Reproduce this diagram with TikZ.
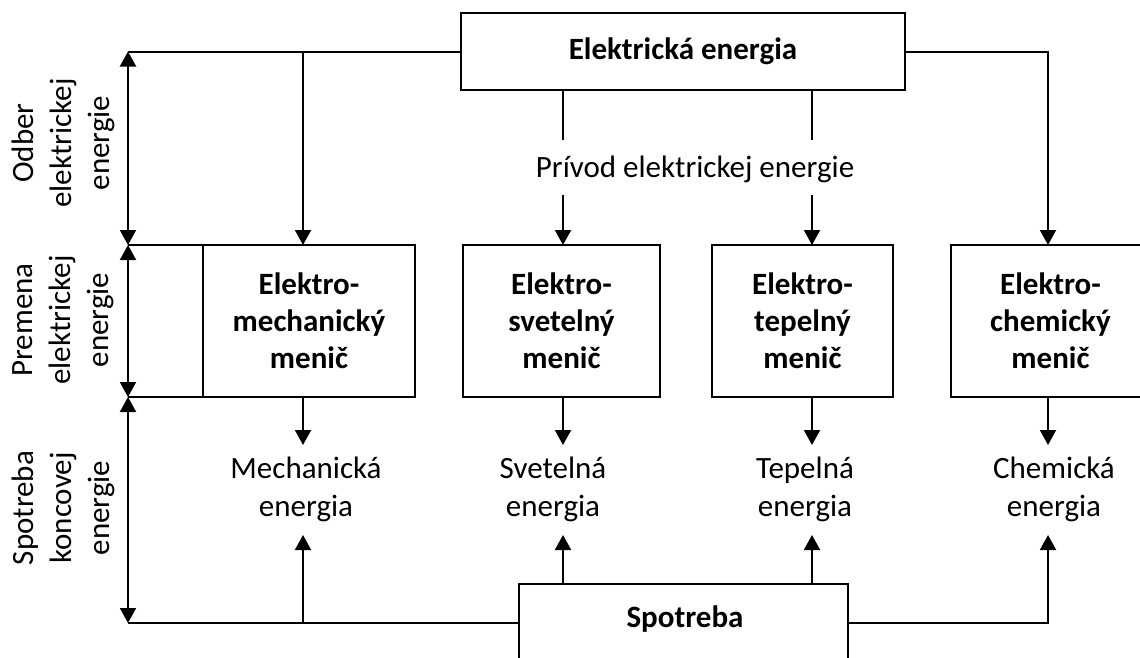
\documentclass[tikz,border=0pt]{standalone}
\usepackage{fontspec}
\setmainfont{Carlito}
\usetikzlibrary{arrows.meta}
\tikzset{
  lw/.style={line width=2pt},
  box/.style={draw, lw, inner sep=0pt, outer sep=0pt, font=\fontsize{31}{37}\selectfont\bfseries, align=center},
  txt/.style={inner sep=0pt, outer sep=0pt, font=\fontsize{31}{38}\selectfont, align=center},
  arr/.style={lw, -{Triangle[width=16pt,length=15pt]}},
  dim/.style={lw, {Triangle[width=16pt,length=15pt]}-{Triangle[width=16pt,length=15pt]}},
  plain/.style={lw}
}
\begin{document}
\begin{tikzpicture}[x=1pt,y=-1pt]
\useasboundingbox (0,0) rectangle (1140,657);
\clip (0,0) rectangle (1140,657);

% main boxes
\node[box, minimum width=444, minimum height=77] (el) at (683,51.5) {Elektrická energia};
\node[box, minimum width=212, minimum height=152] (mech) at (309,321) {Elektro-\\mechanický\\menič};
\node[box, minimum width=197, minimum height=152] (svet) at (561.5,321) {Elektro-\\svetelný\\menič};
\node[box, minimum width=181, minimum height=152] (tep) at (802.5,321) {Elektro-\\tepelný\\menič};
\node[box, minimum width=199, minimum height=152] (chem) at (1050.5,321) {Elektro-\\chemický\\menič};
\node[box, minimum width=329, minimum height=116] (sp) at (683.5,642) {};
\node[txt, font=\fontsize{31}{37}\selectfont\bfseries] (spt) at (685,619) {Spotreba};

% supply label
\node[txt, anchor=base] (priv) at (695,177) {Prívod elektrickej energie};

% final energy labels
\node[txt] (lm) at (306,489) {Mechanická\\energia};
\node[txt] (ls) at (553,489) {Svetelná\\energia};
\node[txt] (lt) at (805,489) {Tepelná\\energia};
\node[txt] (lc) at (1054,489) {Chemická\\energia};

% side labels
\node[txt, rotate=90] (s1) at (63,143) {Odber\\elektrickej\\energie};
\node[txt, rotate=90] (s2) at (63,320) {Premena\\elektrickej\\energie};
\node[txt, rotate=90] (s3) at (63,508) {Spotreba\\koncovej\\energie};

% reference points
\coordinate (tl) at (128,51.5);
\coordinate (ml) at (128,245);
\coordinate (bl) at (128,397);
\coordinate (bt) at (128,623);
\coordinate (xm) at (303,0);
\coordinate (xs) at (563,0);
\coordinate (xt) at (812,0);
\coordinate (xc) at (1048,0);
\coordinate (pa) at (0,140);
\coordinate (pb) at (0,195);
\coordinate (ta) at (0,445);
\coordinate (tb) at (0,535);

% level dimension arrows
\draw[dim] (tl) -- (ml);
\draw[dim] (ml) -- (bl);
\draw[dim] (bl) -- (bt);
\draw[plain] (ml) -- (mech.north west);
\draw[plain] (bl) -- (mech.south west);

% electrical supply
\draw[plain] (el.west) -- (tl);
\draw[arr] (xm |- tl) -- (xm |- mech.north);
\draw[arr] (el.east) -| (xc |- chem.north);
\draw[plain] (xs |- el.south) -- (xs |- pa);
\draw[plain] (xt |- el.south) -- (xt |- pa);
\draw[arr] (xs |- pb) -- (xs |- svet.north);
\draw[arr] (xt |- pb) -- (xt |- tep.north);

% converter outputs
\draw[arr] (xm |- mech.south) -- (xm |- ta);
\draw[arr] (xs |- svet.south) -- (xs |- ta);
\draw[arr] (xt |- tep.south) -- (xt |- ta);
\draw[arr] (xc |- chem.south) -- (xc |- ta);

% consumption
\draw[plain] (bt) -- (sp.west |- bt);
\draw[arr] (xm |- bt) -- (xm |- tb);
\draw[arr] (xs |- sp.north) -- (xs |- tb);
\draw[arr] (xt |- sp.north) -- (xt |- tb);
\draw[arr] (sp.east |- bt) -| (xc |- tb);
\end{tikzpicture}
\end{document}
